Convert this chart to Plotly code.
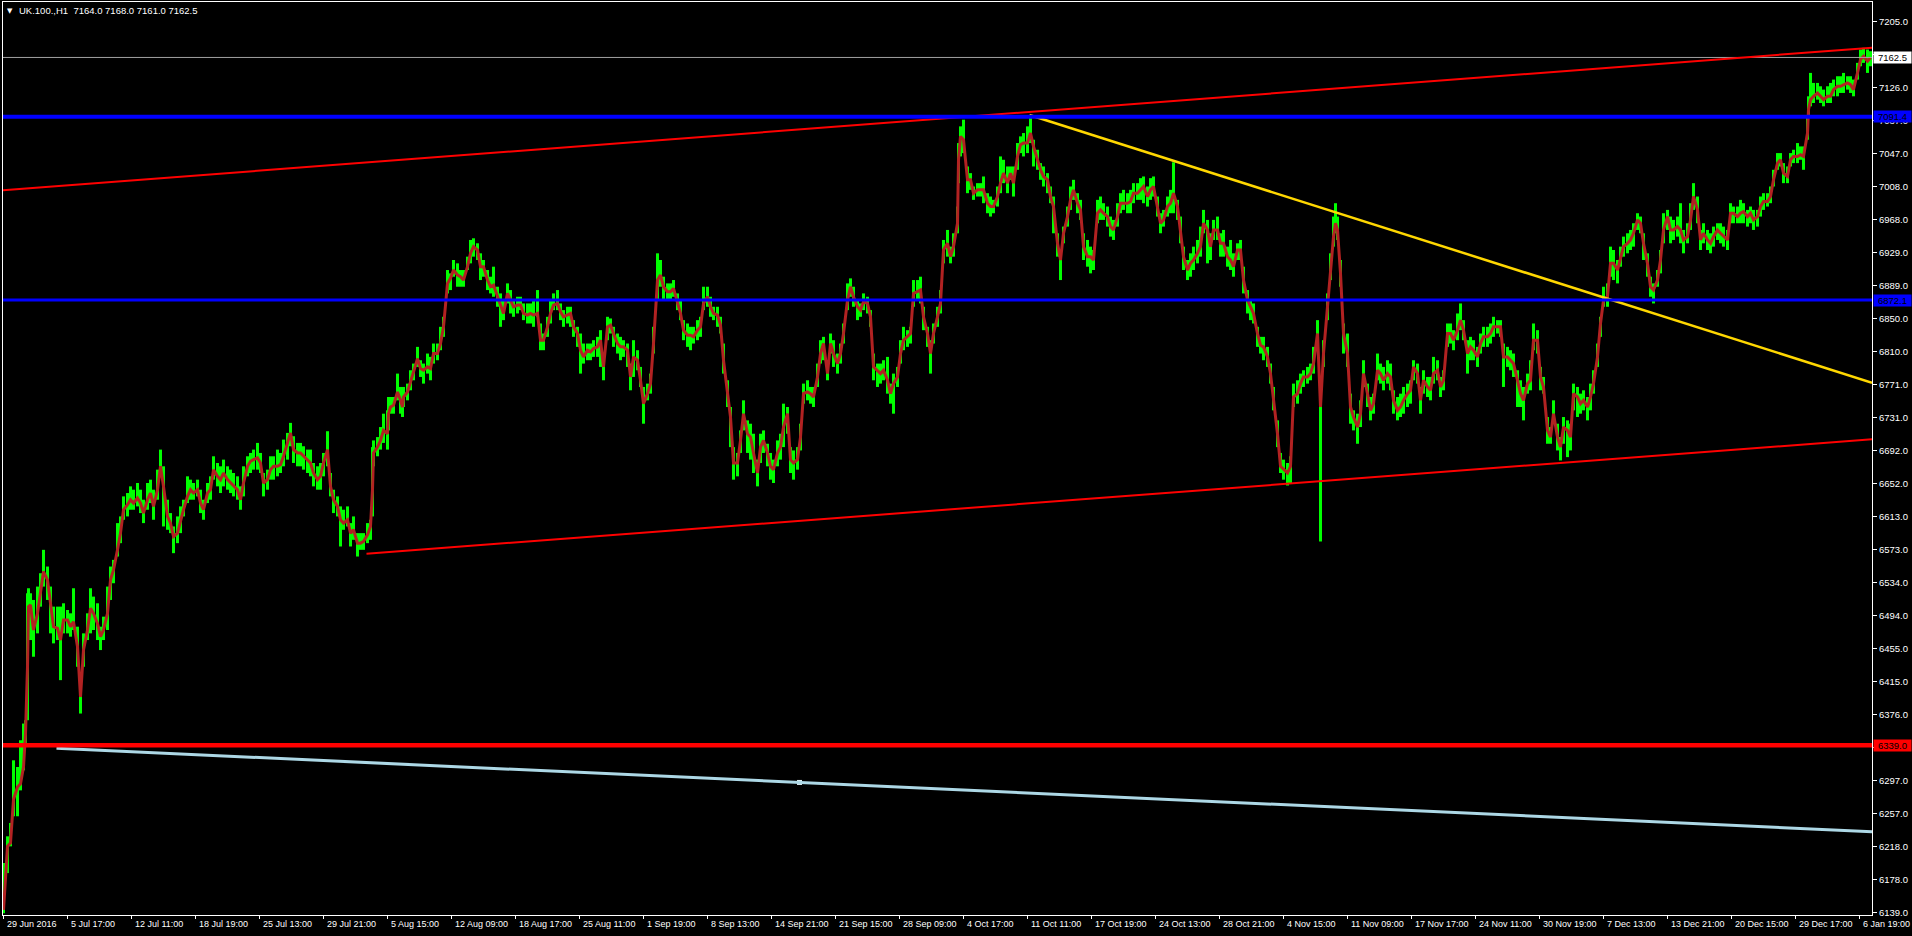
import plotly.graph_objects as go

# ---------------- data (bar index = hourly bar position) ----------------
bar_index = [
    0, 4, 7, 10, 14, 17, 20, 22, 24, 25, 27, 30, 34, 37, 40, 44, 47, 50, 54, 57,
    60, 64, 67, 70, 74, 77, 80, 84, 87, 90, 94, 97, 100, 104, 107, 110, 114, 117, 120, 124,
    127, 130, 134, 137, 140, 144, 147, 150, 154, 157, 160, 164, 167, 170, 174, 177, 180, 184, 187, 190,
    194, 197, 200, 204, 207, 210, 214, 217, 220, 224, 227, 230, 234, 237, 240, 244, 247, 250, 254, 257,
    260, 264, 267, 270, 274, 277, 280, 284, 287, 290, 294, 297, 300, 304, 307, 310, 314, 317, 320, 324,
    327, 330, 334, 337, 340, 344, 347, 350, 354, 357, 360, 364, 367,
    369, 370, 374, 377, 380, 384, 385, 387, 390, 394, 397, 399, 400, 404, 407, 410, 414, 417, 420, 424,
    427, 430, 434, 437, 440, 444, 447, 450, 454, 457, 460, 464, 467, 470, 474, 477, 480, 484, 487, 490,
    494, 497, 500, 504, 507, 510, 514, 517, 520, 524, 527, 530, 534, 537, 540, 544, 547, 550, 554, 557,
    560, 564, 567, 570, 574, 577, 580, 584, 587, 590, 594, 597, 600, 604, 607, 610, 614, 617, 620, 624,
    627, 630, 634, 637, 640, 644, 647, 650, 654, 657, 660, 664, 667, 670, 674, 677, 680, 684, 687, 690,
    694, 697, 700, 704, 707, 710, 714, 717, 720, 724, 727, 730, 734, 737, 740, 744,
    747, 750, 754, 757, 760, 764, 767, 770, 774, 777, 780, 784, 787, 790, 794, 797, 800, 804, 807, 810,
    814, 817, 820, 824, 827, 830, 834, 837, 840, 844, 847, 850, 854, 857, 860, 864, 867, 870, 874, 877,
    880, 884, 887, 890, 894, 897, 900, 904, 907, 910, 914, 917, 920, 924, 927, 930, 934, 937, 940, 944,
    947, 950, 954, 955, 957, 960, 964, 967, 970, 974, 977, 980, 984, 987, 990, 994, 997, 1000, 1004, 1007,
    1010, 1014, 1017, 1020, 1024, 1027, 1030, 1034, 1037, 1040, 1044, 1047, 1050, 1054, 1057, 1060, 1064, 1067, 1070, 1074,
    1077, 1080, 1084, 1087, 1090, 1094, 1097, 1100, 1104, 1107, 1110, 1114,
    1117, 1120, 1124, 1127, 1130, 1134, 1137, 1140, 1144, 1147, 1150, 1154, 1157, 1160, 1164, 1167, 1170, 1174, 1177, 1180,
    1184, 1187, 1190, 1194, 1197, 1200, 1204, 1207, 1210, 1214, 1217, 1220, 1224, 1227, 1230, 1234, 1237, 1240, 1244, 1247,
    1250, 1254, 1257, 1260, 1264, 1267, 1270, 1274, 1277, 1280, 1284, 1287, 1290, 1294, 1297, 1300, 1304, 1307, 1310, 1314,
    1317, 1320, 1324, 1327, 1330, 1332, 1334, 1337, 1340, 1344, 1347, 1350, 1354, 1357, 1360, 1364, 1367, 1370, 1374, 1377,
    1380, 1384, 1387, 1390, 1394, 1397, 1400, 1404, 1407, 1410, 1414, 1417, 1420, 1424, 1427, 1430, 1434, 1437, 1440, 1444,
    1447, 1450, 1454, 1457, 1460, 1464, 1467, 1470, 1474, 1477, 1480, 1484, 1487, 1490, 1494,
    1497, 1500, 1504, 1507, 1510, 1514, 1517, 1520, 1524, 1527, 1530, 1534, 1537, 1540, 1544, 1547, 1550, 1554, 1557, 1560,
    1564, 1567, 1570, 1574, 1577, 1580, 1584, 1587, 1590, 1594, 1597, 1600, 1604, 1607, 1610, 1614, 1617, 1620, 1624, 1627,
    1630, 1634, 1637, 1640, 1644, 1647, 1650, 1654, 1657, 1660, 1664, 1667, 1670, 1674, 1677, 1680, 1684, 1687, 1690, 1694,
    1697, 1700, 1704, 1707, 1710, 1714, 1717, 1720, 1724, 1727, 1730, 1734, 1737, 1740, 1744, 1747, 1750, 1754, 1757, 1760,
    1764, 1767, 1770, 1774, 1777, 1780, 1784, 1787, 1790, 1794, 1797, 1800, 1804, 1805, 1807, 1810, 1814, 1817, 1820, 1824,
    1827, 1830, 1834, 1837, 1840, 1844, 1847, 1850, 1854, 1857, 1860, 1864, 1867,
]

close_line = [
    6142, 6218, 6222, 6274, 6289, 6293, 6313, 6353, 6433, 6505, 6507, 6477, 6497, 6525, 6547, 6537, 6505, 6481, 6479, 6465,
    6489, 6489, 6481, 6487, 6457, 6397, 6453, 6477, 6503, 6497, 6485, 6469, 6477, 6497, 6537, 6549, 6573, 6593, 6621, 6627,
    6633, 6629, 6635, 6629, 6617, 6633, 6641, 6625, 6645, 6673, 6649, 6613, 6605, 6589, 6593, 6609, 6621, 6637, 6645, 6641,
    6645, 6629, 6621, 6641, 6645, 6669, 6661, 6657, 6665, 6657, 6653, 6649, 6645, 6633, 6653, 6673, 6679, 6681, 6683, 6677,
    6653, 6657, 6669, 6673, 6673, 6675, 6685, 6701, 6713, 6693, 6689, 6689, 6685, 6681, 6677, 6665, 6657, 6661, 6677, 6693,
    6649, 6633, 6625, 6609, 6605, 6609, 6593, 6597, 6581, 6581, 6583, 6591, 6601,
    6645, 6689, 6696, 6704, 6716, 6712, 6736, 6744, 6746, 6762, 6752, 6744, 6756, 6762, 6774, 6786, 6802, 6790, 6788, 6792,
    6790, 6808, 6808, 6820, 6840, 6892, 6898, 6908, 6902, 6900, 6896, 6912, 6928, 6936, 6932, 6912, 6912, 6896, 6888, 6890,
    6876, 6864, 6856, 6880, 6872, 6864, 6866, 6866, 6856, 6854, 6856, 6854, 6856, 6824, 6824, 6840, 6856, 6866, 6868, 6858,
    6852, 6854, 6856, 6840, 6832, 6812, 6804, 6812, 6810, 6814, 6816, 6824, 6792, 6840, 6842, 6832, 6820, 6816, 6816, 6812,
    6780, 6804, 6800, 6776, 6748, 6760, 6772, 6820, 6896, 6902, 6888, 6882, 6882, 6886, 6868, 6856, 6836, 6830, 6830, 6828,
    6836, 6840, 6868, 6876, 6864, 6856, 6854, 6842, 6800, 6760, 6732, 6677, 6677, 6704, 6736, 6712,
    6708, 6689, 6665, 6696, 6704, 6689, 6673, 6669, 6689, 6696, 6720, 6736, 6681, 6677, 6681, 6708, 6760, 6762, 6760, 6756,
    6780, 6808, 6820, 6784, 6820, 6808, 6796, 6808, 6832, 6872, 6888, 6876, 6864, 6860, 6870, 6868, 6852, 6792, 6788, 6784,
    6788, 6776, 6760, 6772, 6780, 6808, 6824, 6828, 6832, 6880, 6882, 6884, 6852, 6832, 6808, 6832, 6852, 6868, 6932, 6940,
    6924, 6936, 6964, 7040, 7068, 7064, 7016, 7016, 7000, 7004, 7004, 7004, 6988, 6984, 6984, 6996, 7012, 7024, 7012, 7024,
    7012, 7044, 7058, 7060, 7060, 7072, 7056, 7040, 7028, 7020, 7016, 6996, 6984, 6940, 6920, 6952, 6972, 6992, 7004, 6988,
    6980, 6936, 6924, 6924, 6920, 6976, 6980, 6976, 6972, 6960, 6956, 6972,
    6988, 6988, 6988, 6990, 7000, 7000, 7004, 7008, 6996, 7004, 7008, 6984, 6964, 6968, 6984, 6988, 7000, 6984, 6956, 6924,
    6908, 6916, 6920, 6928, 6936, 6964, 6956, 6936, 6956, 6956, 6940, 6940, 6924, 6920, 6912, 6932, 6932, 6896, 6872, 6864,
    6856, 6832, 6818, 6816, 6804, 6784, 6756, 6712, 6673, 6669, 6665, 6673, 6756, 6760, 6772, 6780, 6780, 6784, 6796, 6832,
    6744, 6808, 6864, 6912, 6948, 6964, 6956, 6904, 6832, 6808, 6744, 6732, 6720, 6736, 6784, 6760, 6740, 6748, 6788, 6784,
    6776, 6784, 6780, 6752, 6740, 6744, 6752, 6760, 6764, 6792, 6784, 6752, 6776, 6768, 6764, 6784, 6788, 6768, 6776, 6832,
    6832, 6824, 6836, 6848, 6836, 6808, 6816, 6812, 6804, 6820, 6828, 6828, 6832, 6840, 6840,
    6840, 6804, 6804, 6800, 6796, 6776, 6760, 6752, 6772, 6776, 6824, 6824, 6780, 6768, 6716, 6708, 6736, 6708, 6696, 6720,
    6716, 6708, 6760, 6756, 6748, 6752, 6744, 6756, 6772, 6804, 6844, 6872, 6876, 6916, 6916, 6908, 6924, 6936, 6940, 6944,
    6952, 6968, 6964, 6940, 6916, 6888, 6884, 6896, 6920, 6956, 6972, 6956, 6956, 6960, 6956, 6944, 6948, 6968, 6996, 6980,
    6944, 6952, 6944, 6940, 6948, 6956, 6952, 6948, 6944, 6976, 6976, 6972, 6976, 6978, 6972, 6976, 6968, 6972, 6984, 6990,
    6990, 6996, 7016, 7036, 7040, 7024, 7020, 7040, 7044, 7044, 7046, 7044, 7072, 7100, 7112, 7116, 7120, 7116, 7112, 7116,
    7116, 7124, 7128, 7128, 7130, 7132, 7130, 7124, 7144, 7160, 7164, 7158, 7162.5,
]

bar_high = [
    6198, 6230, 6246, 6321, 6313, 6345, 6365, 6369, 6521, 6527, 6521, 6513, 6529, 6545, 6573, 6553, 6529, 6505, 6505, 6505,
    6509, 6501, 6497, 6527, 6481, 6425, 6473, 6497, 6527, 6517, 6509, 6481, 6493, 6529, 6553, 6561, 6605, 6613, 6637, 6641,
    6649, 6645, 6653, 6645, 6633, 6653, 6657, 6645, 6669, 6693, 6673, 6633, 6617, 6601, 6613, 6625, 6633, 6661, 6657, 6653,
    6657, 6645, 6633, 6653, 6661, 6685, 6677, 6673, 6681, 6673, 6669, 6665, 6661, 6649, 6673, 6685, 6689, 6693, 6701, 6689,
    6665, 6669, 6685, 6685, 6693, 6689, 6705, 6713, 6725, 6709, 6701, 6701, 6697, 6693, 6693, 6677, 6673, 6677, 6689, 6715,
    6665, 6645, 6637, 6625, 6621, 6625, 6605, 6613, 6593, 6593, 6593, 6605, 6609,
    6696, 6704, 6708, 6720, 6736, 6740, 6756, 6756, 6756, 6784, 6768, 6756, 6768, 6772, 6788, 6796, 6816, 6800, 6796, 6808,
    6804, 6820, 6820, 6840, 6852, 6908, 6904, 6920, 6916, 6908, 6908, 6924, 6944, 6946, 6940, 6928, 6920, 6908, 6900, 6912,
    6888, 6880, 6872, 6892, 6884, 6872, 6876, 6876, 6868, 6868, 6868, 6872, 6884, 6844, 6832, 6852, 6872, 6880, 6884, 6868,
    6860, 6864, 6864, 6848, 6840, 6832, 6820, 6820, 6820, 6824, 6828, 6836, 6808, 6852, 6850, 6840, 6832, 6828, 6824, 6820,
    6796, 6824, 6812, 6792, 6768, 6772, 6784, 6840, 6928, 6920, 6900, 6892, 6892, 6896, 6880, 6872, 6848, 6844, 6840, 6840,
    6848, 6852, 6888, 6888, 6876, 6864, 6864, 6852, 6820, 6776, 6744, 6696, 6689, 6716, 6752, 6728,
    6724, 6712, 6681, 6712, 6716, 6700, 6689, 6681, 6704, 6712, 6748, 6744, 6696, 6692, 6696, 6724, 6772, 6776, 6768, 6768,
    6796, 6824, 6828, 6800, 6832, 6824, 6808, 6820, 6844, 6892, 6898, 6888, 6872, 6868, 6880, 6876, 6860, 6808, 6796, 6796,
    6800, 6804, 6772, 6784, 6792, 6824, 6840, 6836, 6840, 6896, 6896, 6900, 6864, 6840, 6824, 6844, 6864, 6884, 6944, 6956,
    6936, 6952, 6984, 7060, 7080, 7088, 7032, 7024, 7008, 7012, 7012, 7020, 7000, 6996, 6992, 7008, 7044, 7040, 7032, 7032,
    7032, 7060, 7068, 7072, 7080, 7090, 7064, 7052, 7036, 7032, 7024, 7008, 6996, 6952, 6932, 6960, 6984, 7008, 7016, 7000,
    6992, 6952, 6944, 6936, 6932, 6992, 6996, 6988, 6984, 6972, 6968, 6988,
    7000, 7004, 7000, 7004, 7012, 7012, 7018, 7020, 7008, 7018, 7020, 6996, 6976, 6980, 6996, 7004, 7037, 6992, 6972, 6936,
    6920, 6928, 6936, 6944, 6960, 6980, 6968, 6952, 6968, 6972, 6952, 6956, 6936, 6944, 6928, 6940, 6944, 6912, 6884, 6872,
    6868, 6840, 6828, 6828, 6816, 6796, 6768, 6728, 6689, 6681, 6677, 6685, 6772, 6776, 6784, 6788, 6792, 6796, 6816, 6848,
    6776, 6824, 6880, 6928, 6972, 6988, 6972, 6920, 6844, 6832, 6760, 6740, 6736, 6752, 6800, 6772, 6756, 6760, 6808, 6796,
    6792, 6800, 6796, 6764, 6756, 6760, 6768, 6772, 6776, 6800, 6796, 6768, 6788, 6780, 6780, 6804, 6800, 6780, 6788, 6844,
    6844, 6836, 6856, 6868, 6848, 6824, 6828, 6824, 6816, 6832, 6840, 6840, 6844, 6852, 6848,
    6848, 6820, 6816, 6812, 6808, 6788, 6776, 6768, 6784, 6800, 6844, 6836, 6792, 6780, 6732, 6720, 6752, 6724, 6708, 6732,
    6728, 6724, 6772, 6768, 6760, 6764, 6756, 6772, 6788, 6820, 6852, 6888, 6892, 6936, 6932, 6920, 6936, 6948, 6952, 6956,
    6964, 6976, 6972, 6952, 6928, 6900, 6892, 6908, 6932, 6976, 6980, 6972, 6968, 6972, 6988, 6956, 6964, 6988, 7012, 6996,
    6956, 6964, 6956, 6952, 6960, 6964, 6964, 6960, 6956, 6988, 6984, 6984, 6992, 6988, 6980, 6984, 6980, 6980, 6996, 7000,
    7000, 7008, 7028, 7048, 7048, 7036, 7032, 7048, 7052, 7060, 7056, 7056, 7092, 7116, 7144, 7132, 7132, 7128, 7124, 7128,
    7132, 7136, 7140, 7140, 7144, 7140, 7140, 7136, 7156, 7172, 7174, 7172, 7170,
]

bar_low = [
    6138, 6186, 6218, 6254, 6254, 6285, 6309, 6337, 6369, 6473, 6465, 6445, 6473, 6505, 6529, 6513, 6473, 6461, 6465, 6417,
    6473, 6473, 6469, 6477, 6433, 6377, 6433, 6465, 6473, 6477, 6465, 6453, 6465, 6477, 6513, 6533, 6565, 6581, 6609, 6613,
    6621, 6621, 6625, 6617, 6605, 6621, 6629, 6609, 6633, 6661, 6601, 6597, 6593, 6569, 6581, 6593, 6613, 6629, 6633, 6633,
    6637, 6617, 6609, 6629, 6633, 6657, 6649, 6641, 6649, 6645, 6641, 6637, 6633, 6621, 6637, 6661, 6665, 6669, 6669, 6665,
    6637, 6645, 6657, 6657, 6661, 6665, 6673, 6681, 6697, 6677, 6673, 6673, 6669, 6665, 6661, 6649, 6645, 6645, 6661, 6673,
    6637, 6617, 6613, 6577, 6597, 6601, 6577, 6585, 6565, 6573, 6573, 6581, 6585,
    6613, 6673, 6685, 6693, 6701, 6693, 6716, 6736, 6736, 6752, 6736, 6732, 6744, 6752, 6764, 6776, 6792, 6780, 6772, 6784,
    6776, 6796, 6800, 6812, 6828, 6880, 6884, 6900, 6888, 6888, 6888, 6908, 6916, 6924, 6920, 6896, 6900, 6884, 6880, 6876,
    6864, 6840, 6848, 6868, 6856, 6852, 6856, 6860, 6848, 6844, 6844, 6840, 6852, 6812, 6812, 6828, 6844, 6860, 6860, 6848,
    6840, 6844, 6840, 6828, 6816, 6784, 6796, 6800, 6800, 6804, 6804, 6792, 6776, 6824, 6832, 6816, 6808, 6800, 6804, 6792,
    6764, 6780, 6788, 6768, 6724, 6752, 6760, 6808, 6872, 6888, 6872, 6872, 6872, 6876, 6860, 6848, 6824, 6816, 6812, 6820,
    6824, 6828, 6860, 6864, 6852, 6848, 6840, 6832, 6784, 6744, 6696, 6657, 6661, 6689, 6716, 6689,
    6681, 6665, 6649, 6677, 6689, 6673, 6657, 6653, 6673, 6681, 6696, 6712, 6665, 6657, 6669, 6692, 6748, 6752, 6748, 6744,
    6768, 6796, 6800, 6776, 6808, 6792, 6784, 6796, 6820, 6860, 6876, 6864, 6848, 6852, 6860, 6856, 6840, 6776, 6768, 6772,
    6776, 6760, 6748, 6736, 6768, 6796, 6812, 6816, 6820, 6864, 6872, 6868, 6836, 6816, 6784, 6820, 6840, 6856, 6916, 6924,
    6916, 6924, 6952, 7012, 7044, 7048, 7000, 7004, 6992, 6996, 6996, 6988, 6976, 6972, 6976, 6984, 7000, 7012, 7000, 7016,
    6996, 7028, 7048, 7044, 7048, 7060, 7032, 7028, 7016, 7008, 7000, 6988, 6952, 6924, 6896, 6940, 6960, 6980, 6992, 6976,
    6968, 6920, 6912, 6904, 6908, 6964, 6968, 6968, 6960, 6948, 6944, 6960,
    6976, 6980, 6976, 6976, 6988, 6992, 6992, 6988, 6984, 6992, 6996, 6972, 6952, 6960, 6972, 6976, 6976, 6968, 6940, 6908,
    6896, 6900, 6908, 6916, 6924, 6952, 6916, 6920, 6944, 6944, 6924, 6924, 6912, 6908, 6900, 6920, 6920, 6880, 6856, 6848,
    6844, 6816, 6808, 6800, 6792, 6772, 6740, 6696, 6665, 6657, 6650, 6652, 6744, 6748, 6760, 6768, 6772, 6776, 6784, 6816,
    6583, 6792, 6848, 6896, 6936, 6952, 6944, 6888, 6808, 6792, 6724, 6716, 6700, 6720, 6768, 6744, 6728, 6736, 6776, 6772,
    6764, 6772, 6764, 6736, 6728, 6732, 6736, 6744, 6748, 6776, 6772, 6736, 6760, 6756, 6752, 6772, 6776, 6756, 6764, 6816,
    6820, 6812, 6824, 6836, 6824, 6784, 6800, 6800, 6792, 6808, 6816, 6816, 6820, 6828, 6832,
    6828, 6768, 6792, 6788, 6780, 6744, 6744, 6728, 6760, 6764, 6812, 6808, 6764, 6760, 6700, 6700, 6724, 6692, 6680, 6700,
    6684, 6692, 6740, 6732, 6736, 6740, 6728, 6740, 6760, 6792, 6828, 6864, 6864, 6900, 6896, 6892, 6912, 6924, 6928, 6932,
    6936, 6956, 6952, 6920, 6900, 6876, 6868, 6888, 6904, 6940, 6956, 6940, 6944, 6948, 6940, 6928, 6940, 6956, 6980, 6964,
    6932, 6940, 6932, 6928, 6936, 6944, 6940, 6936, 6932, 6964, 6964, 6964, 6964, 6964, 6960, 6964, 6956, 6960, 6972, 6980,
    6984, 6988, 7008, 7028, 7032, 7012, 7012, 7032, 7036, 7036, 7040, 7028, 7064, 7092, 7104, 7108, 7112, 7108, 7104, 7108,
    7108, 7116, 7116, 7120, 7120, 7124, 7120, 7116, 7136, 7152, 7156, 7144, 7152,
]

time_labels = [
    "29 Jun 2016", "5 Jul 17:00", "12 Jul 11:00", "18 Jul 19:00", "25 Jul 13:00", "29 Jul 21:00",
    "5 Aug 15:00", "12 Aug 09:00", "18 Aug 17:00", "25 Aug 11:00", "1 Sep 19:00", "8 Sep 13:00",
    "14 Sep 21:00", "21 Sep 15:00", "28 Sep 09:00", "4 Oct 17:00", "11 Oct 11:00", "17 Oct 19:00",
    "24 Oct 13:00", "28 Oct 21:00", "4 Nov 15:00", "11 Nov 09:00", "17 Nov 17:00", "24 Nov 11:00",
    "30 Nov 19:00", "7 Dec 13:00", "13 Dec 21:00", "20 Dec 15:00", "29 Dec 17:00", "6 Jan 19:00",
]
time_label_bar = [0, 64, 128, 192, 256, 320, 384, 448, 512, 576, 640, 704, 768, 832, 896,
                  960, 1024, 1088, 1152, 1216, 1280, 1344, 1408, 1472, 1536, 1600, 1664, 1728, 1792, 1856]

price_ticks = [7205.0, 7165.5, 7126.0, 7086.5, 7047.0, 7008.0, 6968.0, 6929.0, 6889.0, 6850.0,
               6810.0, 6771.0, 6731.0, 6692.0, 6652.0, 6613.0, 6573.0, 6534.0, 6494.0, 6455.0,
               6415.0, 6376.0, 6336.5, 6297.0, 6257.0, 6218.0, 6178.0, 6139.0]
price_tick_text = ["7205.0", "7166.0", "7126.0", "7087.0", "7047.0", "7008.0", "6968.0", "6929.0", "6889.0", "6850.0",
                   "6810.0", "6771.0", "6731.0", "6692.0", "6652.0", "6613.0", "6573.0", "6534.0", "6494.0", "6455.0",
                   "6415.0", "6376.0", "6337.0", "6297.0", "6257.0", "6218.0", "6178.0", "6139.0"]

# drawn objects
bid_price = 7162.5
blue_level_top = 7091.4
blue_level_mid = 6872.1
red_level = 6339.0
upper_channel_x = [-0.5, 1868.5]
upper_channel_y = [7003.6, 7174.2]
lower_channel_x = [363, 1868.5]
lower_channel_y = [6568.4, 6705.3]
yellow_trend_x = [1026, 1868.5]
yellow_trend_y = [7093.6, 6773.0]
lightblue_trend_x = [53, 1868.5]
lightblue_trend_y = [6335.4, 6235.5]
lightblue_anchor_x = [796]
lightblue_anchor_y = [6294.5]

title_text = "UK.100.,H1\u00a0\u00a07164.0 7168.0 7161.0 7162.5"

FONT = "Liberation Sans, Arial, sans-serif"

# ---------------- figure ----------------
seg_x, seg_y = [], []
for i, h, l in zip(bar_index, bar_high, bar_low):
    seg_x += [i, i, None]
    seg_y += [l, h, None]

fig = go.Figure()
fig.add_trace(go.Scatter(x=seg_x, y=seg_y, mode="lines",
                         line=dict(color="#00FF00", width=3), hoverinfo="skip", showlegend=False))
fig.add_trace(go.Scatter(x=bar_index, y=close_line, mode="lines",
                         line=dict(color="#B22222", width=3), showlegend=False))
fig.add_trace(go.Scatter(x=lightblue_anchor_x, y=lightblue_anchor_y, mode="markers",
                         marker=dict(symbol="square", size=5, color="#DDEEF2"), showlegend=False))

shapes = []
def hline(y, color, width):
    shapes.append(dict(type="line", xref="paper", x0=0, x1=1, yref="y", y0=y, y1=y,
                       line=dict(color=color, width=width), layer="above"))

def seg(xs, ys, color, width):
    shapes.append(dict(type="line", xref="x", yref="y", x0=xs[0], x1=xs[1], y0=ys[0], y1=ys[1],
                       line=dict(color=color, width=width), layer="above"))

hline(bid_price, "#A0A0A0", 1)
seg(upper_channel_x, upper_channel_y, "#FF0000", 2)
seg(lower_channel_x, lower_channel_y, "#FF0000", 2)
seg(yellow_trend_x, yellow_trend_y, "#FFD700", 2.5)
seg(lightblue_trend_x, lightblue_trend_y, "#ADD8E6", 3)
hline(blue_level_top, "#0000FF", 4)
hline(blue_level_mid, "#0000FF", 3)
hline(red_level, "#FF0000", 4.5)

annotations = []
for lbl, b in zip(time_labels, time_label_bar):
    annotations.append(dict(x=b, xref="x", y=0, yref="paper", xanchor="left", yanchor="middle",
                            xshift=1, yshift=-9, text=lbl, showarrow=False,
                            font=dict(color="white", size=9, family=FONT)))

for val, bg in [(bid_price, "#FFFFFF"), (blue_level_top, "#0000FF"),
                (blue_level_mid, "#0000FF"), (red_level, "#FF0000")]:
    annotations.append(dict(x=1, xref="paper", xanchor="left", xshift=1, y=val, yref="y",
                            yanchor="middle", text=f"{val:.1f}", showarrow=False, bgcolor=bg,
                            width=37, height=11, borderpad=0, align="center",
                            font=dict(color="#000000", size=9.5, family=FONT)))

annotations.append(dict(x=0, xref="paper", y=1, yref="paper", xanchor="left", yanchor="middle",
                        xshift=2, yshift=-8.5, text="\u25BC", showarrow=False,
                        font=dict(color="white", size=7, family="DejaVu Sans")))
annotations.append(dict(x=0, xref="paper", y=1, yref="paper", xanchor="left", yanchor="middle",
                        xshift=14, yshift=-8.7, text=title_text, showarrow=False,
                        font=dict(color="white", size=9.5, family=FONT)))

fig.update_layout(
    width=1912, height=936, autosize=False,
    margin=dict(l=3, r=40, t=2, b=21, pad=0),
    paper_bgcolor="#000000", plot_bgcolor="#000000",
    showlegend=False, shapes=shapes, annotations=annotations,
    xaxis=dict(range=[-0.5, 1868.5], showgrid=False, zeroline=False, showline=True, mirror=True,
               linecolor="#FFFFFF", linewidth=1, ticks="outside", ticklen=3, tickcolor="#FFFFFF",
               tickvals=time_label_bar, showticklabels=False, fixedrange=True, automargin=False),
    yaxis=dict(range=[6135.8, 7228.9], side="right", showgrid=False, zeroline=False, showline=True,
               mirror=True, linecolor="#FFFFFF", linewidth=1, ticks="outside", ticklen=4,
               tickcolor="#FFFFFF", tickvals=price_ticks, ticktext=price_tick_text,
               tickfont=dict(color="#FFFFFF", size=9.5, family=FONT), fixedrange=True, automargin=False),
)

fig.write_html("out.html", config={"displayModeBar": False},
               post_script="document.body.style.margin='0px';document.body.style.background='#000';")
